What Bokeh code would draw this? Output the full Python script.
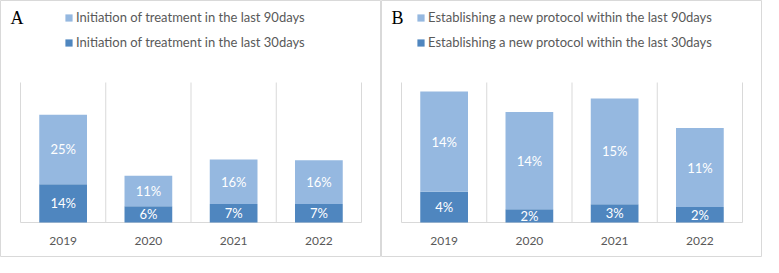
from bokeh.plotting import figure
from bokeh.models import Range1d, Legend, LegendItem, Label, ColumnDataSource
from bokeh.layouts import row
from bokeh.embed import file_html
from bokeh.resources import INLINE
from bokeh.core.properties import value

years = ["2019", "2020", "2021", "2022"]

a_30 = [13.7, 5.8, 6.6, 6.6]
a_90 = [24.8, 10.9, 15.9, 15.6]
a_names = ["Initiation of treatment in the last 90days", "Initiation of treatment in the last 30days"]

b_30 = [4.4, 1.9, 2.6, 2.2]
b_90 = [14.3, 13.9, 15.1, 11.3]
b_names = ["Establishing a new protocol within the last 90days", "Establishing a new protocol within the last 30days"]

LIGHT = "#95b8e0"
DARK = "#4f86bf"
GRAY = "#595959"
GRID = "#d9d9d9"
FONT = "Lato"

W, H = 381, 257
PL, PR, PT, PB = 20, 20, 82, 35   # plot-area insets in px


def panel(letter, d30, d90, names, ymax, legend_x):
    n = len(years)
    pw, ph = W - PL - PR, H - PT - PB
    xr = Range1d(-PL * n / pw, n + PR * n / pw)
    yr = Range1d(-PB * ymax / ph, ymax + PT * ymax / ph)
    p = figure(width=W, height=H, output_backend="svg", toolbar_location=None,
               x_range=xr, y_range=yr, x_axis_location=None, y_axis_location=None,
               min_border=0, min_border_left=0, min_border_right=0,
               min_border_top=0, min_border_bottom=0)
    p.grid.visible = False
    p.outline_line_color = GRID
    p.outline_line_width = 1

    xs = [i + 0.5 for i in range(n)]
    bounds = list(range(n + 1))
    p.segment(x0=bounds, y0=[0] * len(bounds), x1=bounds, y1=[ymax] * len(bounds),
              line_color=GRID, line_width=1)
    p.segment(x0=[0], y0=[0], x1=[n], y1=[0], line_color=GRID, line_width=1)

    src = ColumnDataSource(dict(
        x=xs, d30=d30, top=[a + b for a, b in zip(d30, d90)],
        m30=[a / 2 for a in d30], m90=[a + b / 2 for a, b in zip(d30, d90)],
        t30=["%d%%" % round(v) for v in d30], t90=["%d%%" % round(v) for v in d90],
        zero=[0] * n, yr=years,
    ))
    r30 = p.vbar(x="x", bottom=0, top="d30", width=0.56, source=src, fill_color=DARK, line_color=None)
    r90 = p.vbar(x="x", bottom="d30", top="top", width=0.56, source=src, fill_color=LIGHT, line_color=None)
    for col, ycol in (("t30", "m30"), ("t90", "m90")):
        p.text(x="x", y=ycol, text=col, source=src, text_align="center", text_baseline="middle",
               text_color="white", text_font=value(FONT), text_font_size="13px")
    p.text(x="x", y="zero", text="yr", source=src, text_align="center", text_baseline="middle",
           y_offset=18, text_color=GRAY, text_font=value(FONT), text_font_size="12px")

    legend = Legend(items=[LegendItem(label=names[0], renderers=[r90]),
                           LegendItem(label=names[1], renderers=[r30])],
                    location=(PL + legend_x, H - 50), orientation="vertical",
                    glyph_width=9, glyph_height=9, label_height=14, spacing=9,
                    label_standoff=3, padding=0, margin=0,
                    background_fill_alpha=0, border_line_color=None,
                    label_text_font=FONT, label_text_font_size="13px", label_text_color=GRAY)
    p.add_layout(legend)
    p.add_layout(Label(x=10, y=H - 7, x_units="screen", y_units="screen", text=letter,
                       text_font="Liberation Serif", text_font_size="18px", text_color="black",
                       text_baseline="top"))
    return p


pa = panel("A", a_30, a_90, a_names, 50, 44)
pb = panel("B", b_30, b_90, b_names, 20, 15)
layout = row(pa, pb, spacing=0)
open("out.html", "w").write(file_html(layout, INLINE))
